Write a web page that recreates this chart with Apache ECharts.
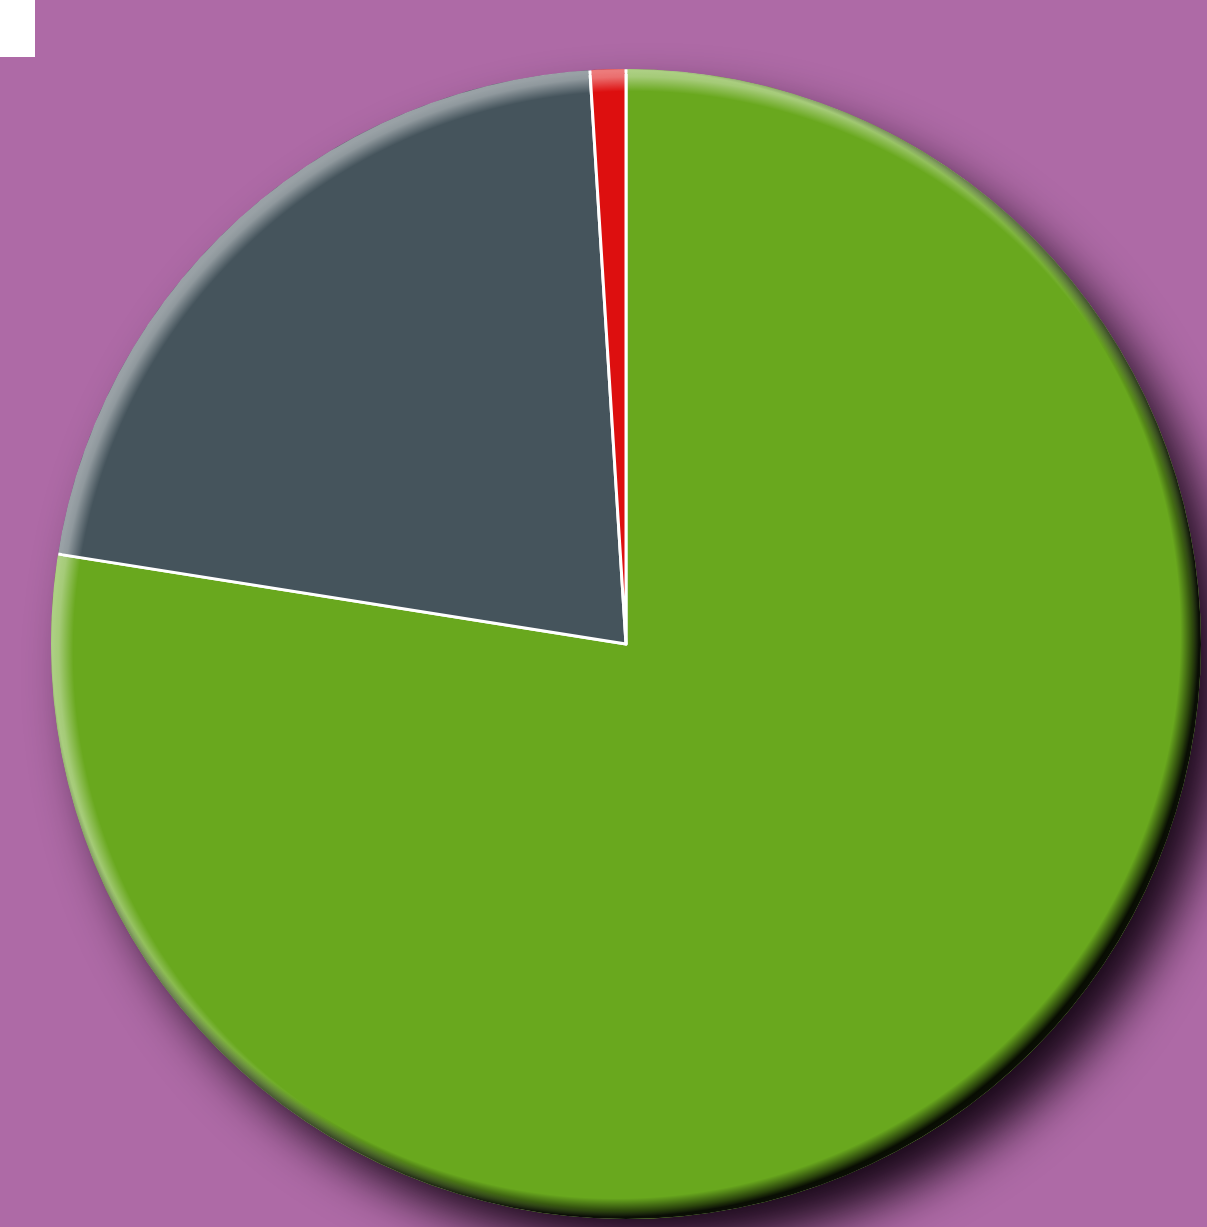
<!DOCTYPE html>
<html>
<head>
    <meta charset="UTF-8">
    <title>Pie</title>
    <style>
        html, body {
            height: 100%;
            width: 100%;
            margin: 0;
            padding: 0;
            background: #ae6aa6;
        }
    </style>
    <script src="https://cdn.jsdelivr.net/npm/echarts@6/dist/echarts.min.js"></script>
</head>
<body>
<div id="main" style="width: 1207px; height: 1227px;"></div>

<script type="text/javascript">
    // slice names and values (percent), clockwise from 12 o'clock
    var names = ['A', 'B', 'C'];
    var values = [77.5, 21.5, 1.0];
    var colors = ['#69a81e', '#45545c', '#dd0f0f'];

    var cx = 626, cy = 644, R = 573;

    // edge shading: gradient centre shifted so one side gets more colour
    function edgeShade(shift, stops) {
        return {
            type: 'radial', x: cx + shift, y: cy + shift, r: R + Math.abs(shift), global: true,
            colorStops: stops
        };
    }

    var pieData = names.map(function (n, i) {
        return {name: n, value: values[i], itemStyle: {color: colors[i]}};
    });

    var myChart = echarts.init(document.getElementById('main'));
    var option = {
        backgroundColor: '#ae6aa6',
        animation: false,
        graphic: [{
            type: 'rect',
            shape: {x: 0, y: 0, width: 35, height: 57},
            style: {fill: '#ffffff'}
        }],
        series: [{
            // disk under the slices, carries the drop shadow
            type: 'pie',
            silent: true,
            center: [cx, cy],
            radius: [0, R - 1],
            label: {show: false},
            z: 1,
            data: [{
                value: 1,
                itemStyle: {
                    color: '#ffffff',
                    shadowColor: 'rgba(22,6,22,1)',
                    shadowBlur: 50,
                    shadowOffsetX: 26,
                    shadowOffsetY: 30
                }
            }]
        }, {
            type: 'pie',
            center: [cx, cy],
            radius: [0, R],
            startAngle: 90,
            clockwise: true,
            label: {show: false},
            labelLine: {show: false},
            z: 2,
            itemStyle: {
                borderColor: '#ffffff',
                borderWidth: 3
            },
            data: pieData
        }, {
            // covers the outer white arc, keeps gaps over the separators
            type: 'pie',
            silent: true,
            center: [cx, cy],
            radius: [R - 3, R + 2],
            startAngle: 90,
            clockwise: true,
            padAngle: 0.3,
            label: {show: false},
            labelLine: {show: false},
            z: 3,
            data: pieData
        }, {
            // light rim
            type: 'pie',
            silent: true,
            center: [cx, cy],
            radius: [R - 40, R + 2],
            label: {show: false},
            labelLine: {show: false},
            z: 4,
            data: [{value: 1, itemStyle: {color: edgeShade(7, [
                {offset: 0.965, color: 'rgba(255,255,255,0)'},
                {offset: 0.99, color: 'rgba(255,255,255,0.4)'},
                {offset: 1, color: 'rgba(255,255,255,0.45)'}
            ])}}]
        }, {
            // dark rim, strongest bottom-right
            type: 'pie',
            silent: true,
            center: [cx, cy],
            radius: [R - 40, R + 2],
            label: {show: false},
            labelLine: {show: false},
            z: 5,
            data: [{value: 1, itemStyle: {color: edgeShade(-10, [
                {offset: 0.968, color: 'rgba(0,0,0,0)'},
                {offset: 0.99, color: 'rgba(0,0,0,0.6)'},
                {offset: 1, color: 'rgba(0,0,0,0.92)'}
            ])}}]
        }]
    };
    myChart.setOption(option);
</script>
</body>
</html>
